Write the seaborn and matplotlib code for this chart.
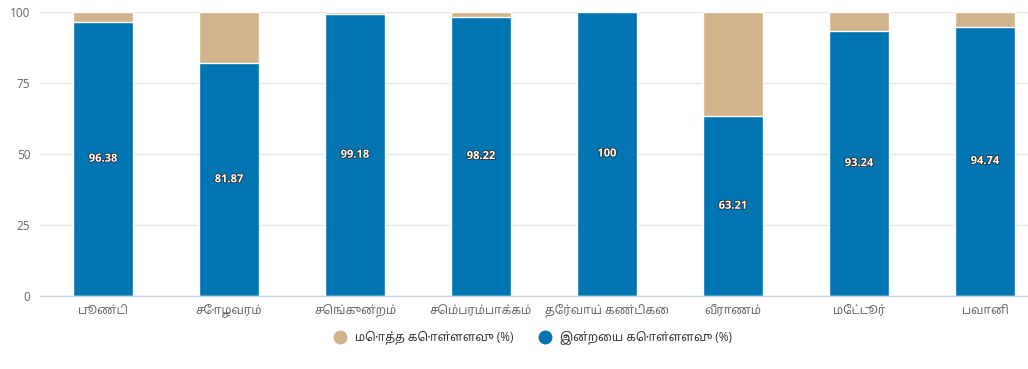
import matplotlib
matplotlib.use("Agg")
import matplotlib.pyplot as plt
import matplotlib.patheffects as pe
from matplotlib.lines import Line2D
import seaborn as sns
import pandas as pd

# reservoirs and current storage (% of full capacity)
lakes = ["பூண்டி", "சோழவரம்", "செங்குன்றம்", "செம்பரம்பாக்கம்",
         "தேர்வாய் கண்டிகை", "வீராணம்", "மேட்டூர்", "பவானி"]
current = [96.38, 81.87, 99.18, 98.22, 100, 63.21, 93.24, 94.74]
total = [100, 100, 100, 100, 100, 100, 100, 100]

total_label = "மொத்த கொள்ளளவு (%)"
current_label = "இன்றைய கொள்ளளவு (%)"

tan = "#d2b48c"
blue = "#0075b2"

sns.set_style("white")
plt.rcParams["font.family"] = ["Open Sans", "Noto Sans Tamil", "Lohit Tamil",
                               "Hind Madurai", "DejaVu Sans"]

df = pd.DataFrame({"lake": lakes, "current": current, "total": total})

fig = plt.figure(figsize=(10.28, 3.69), dpi=100)
# plot area runs past the right edge in the original screenshot
ax = fig.add_axes([40 / 1028, 1 - 296 / 369, 1008 / 1028, 284 / 369])

sns.barplot(data=df, x="lake", y="total", color=tan, width=0.48,
            edgecolor="white", linewidth=1, saturation=1, ax=ax)
sns.barplot(data=df, x="lake", y="current", color=blue, width=0.48,
            edgecolor="white", linewidth=1, saturation=1, ax=ax)

for i, v in enumerate(current):
    ax.text(i, v / 2, "{:g}".format(v), ha="center", va="center",
            color="white", fontsize=8, fontweight="bold",
            path_effects=[pe.withStroke(linewidth=1.2, foreground="#333333")])

ax.set_ylim(0, 100)
ax.set_xlim(-0.5, 7.5)
ax.set_yticks([0, 25, 50, 75, 100])
ax.grid(axis="y", color="#e6e6e6", linewidth=1)
ax.set_axisbelow(True)
for s in ["top", "right", "left"]:
    ax.spines[s].set_visible(False)
ax.spines["bottom"].set_color("#ccd6eb")
ax.spines["bottom"].set_linewidth(1)
ax.tick_params(axis="both", length=0, labelcolor="#666666")
ax.tick_params(axis="y", pad=7, labelsize=8.5)
ax.tick_params(axis="x", pad=6, labelsize=8.5)
ax.set_xlabel("")
ax.set_ylabel("")

handles = [
    Line2D([], [], marker="o", linestyle="", markersize=9, color=tan),
    Line2D([], [], marker="o", linestyle="", markersize=9, color=blue),
]
fig.legend(handles, [total_label, current_label], loc="center",
           bbox_to_anchor=(530 / 1028, 1 - 338 / 369), ncol=2, frameon=False,
           fontsize=8.5, handletextpad=0.3, columnspacing=1.6,
           labelcolor="#333333")

fig.savefig("out.png", dpi=100)
